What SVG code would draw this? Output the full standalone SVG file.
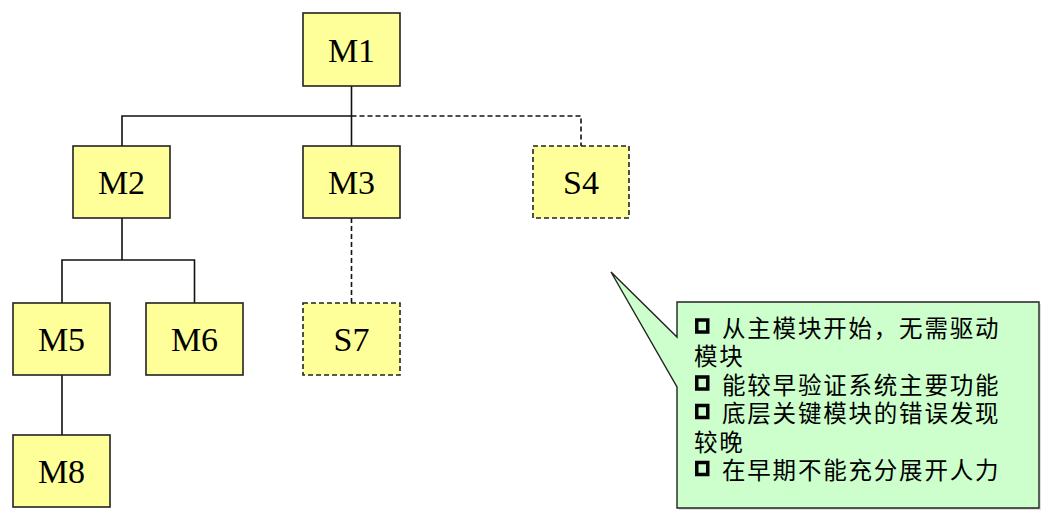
<svg xmlns="http://www.w3.org/2000/svg" width="1052" height="525" viewBox="0 0 1052 525">
<style>
.box{fill:#FFFF99;stroke:#222;stroke-width:1.6}
.dbox{fill:#FFFF99;stroke:#222;stroke-width:1.6;stroke-dasharray:5 3}
.lbl{font-family:"Liberation Serif","Times New Roman",serif;font-size:34px;fill:#000;text-anchor:middle}
.ln{fill:none;stroke:#111;stroke-width:1.6}
.dln{fill:none;stroke:#111;stroke-width:1.6;stroke-dasharray:5 3}
.note{font-family:"Noto Sans CJK SC","Noto Sans",sans-serif;font-size:23.5px;fill:#000;letter-spacing:1.8px}
.bul{fill:none;stroke:#000;stroke-width:3.5}
</style>
<rect width="1052" height="525" fill="#fff"/>
<g id="connectors">
<path class="ln" d="M351.5 86 V146 M122 146 V116 H351.5"/>
<path class="dln" d="M351.5 116 H581 V146"/>
<path class="ln" d="M122 218 V260 M62 303 V260 H194.5 V303"/>
<path class="ln" d="M62 375 V435"/>
<path class="dln" d="M351.5 218 V303"/>
</g>
<g id="M1"><rect class="box" x="303" y="13" width="97" height="73"/><text class="lbl" x="351.5" y="62">M1</text></g>
<g id="M2"><rect class="box" x="73" y="146" width="97" height="72"/><text class="lbl" x="121.5" y="194">M2</text></g>
<g id="M3"><rect class="box" x="303" y="146" width="97" height="72"/><text class="lbl" x="351.5" y="194">M3</text></g>
<g id="S4"><rect class="dbox" x="533" y="146" width="96" height="72"/><text class="lbl" x="581" y="194">S4</text></g>
<g id="M5"><rect class="box" x="13" y="303" width="97" height="72"/><text class="lbl" x="61.5" y="351">M5</text></g>
<g id="M6"><rect class="box" x="146" y="303" width="97" height="72"/><text class="lbl" x="194.5" y="351">M6</text></g>
<g id="S7"><rect class="dbox" x="303" y="303" width="97" height="72"/><text class="lbl" x="351.5" y="351">S7</text></g>
<g id="M8"><rect class="box" x="13" y="435" width="97" height="72"/><text class="lbl" x="61.5" y="483">M8</text></g>
<g id="callout">
<path d="M679 304 L1041 304 L1041 510 L679 510 L679 389 L613 274 L679 339 Z" fill="#bbb" opacity="0.5"/>
<path d="M677 302 L1039 302 L1039 508 L677 508 L677 387 L611 272 L677 337 Z" fill="#CCFFCC" stroke="#222" stroke-width="1.4"/>
<rect class="bul" x="696.75" y="320" width="11" height="12"/>
<text class="note" x="722" y="336.5">从主模块开始，无需驱动</text>
<text class="note" x="694" y="365">模块</text>
<rect class="bul" x="696.75" y="377" width="11" height="12"/>
<text class="note" x="722" y="393.5">能较早验证系统主要功能</text>
<rect class="bul" x="696.75" y="405.5" width="11" height="12"/>
<text class="note" x="722" y="422">底层关键模块的错误发现</text>
<text class="note" x="694" y="450.5">较晚</text>
<rect class="bul" x="696.75" y="462.5" width="11" height="12"/>
<text class="note" x="722" y="479">在早期不能充分展开人力</text>
</g>
</svg>
